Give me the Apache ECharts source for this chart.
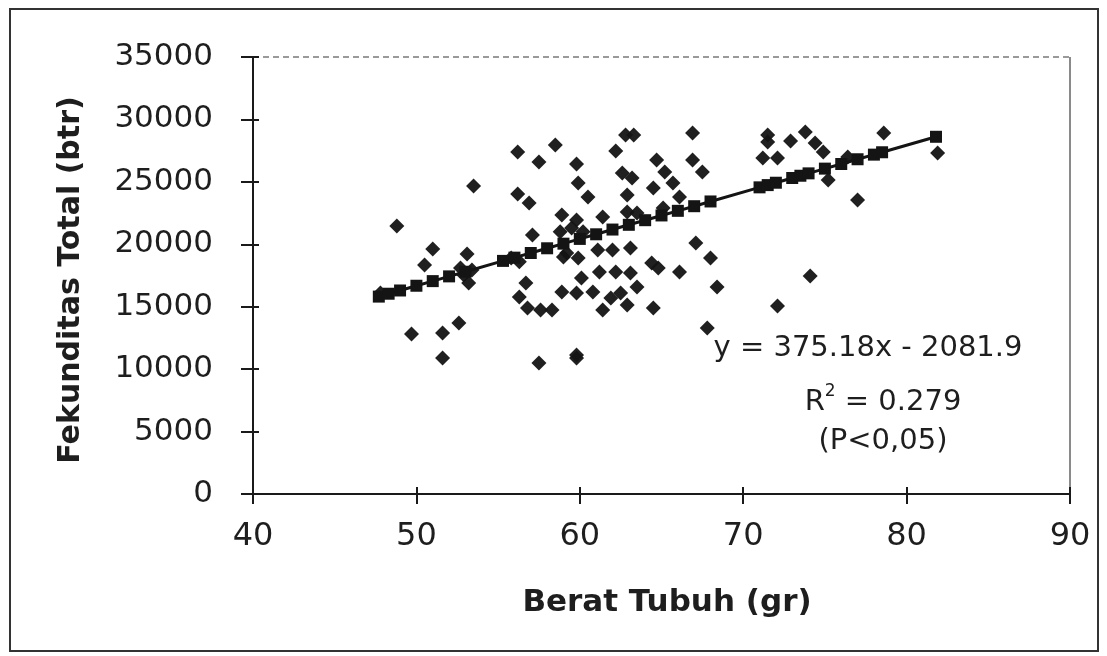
<!DOCTYPE html>
<html>
<head>
<meta charset="utf-8">
<script src="https://cdn.jsdelivr.net/npm/echarts@6/dist/echarts.min.js"></script>
<style>
html,body{margin:0;padding:0;background:#fff;}
#chart{width:1107px;height:656px;}
</style>
</head>
<body>
<div id="chart"></div>
<script>
// Observed data: body weight (gr) and total fecundity (btr)
const bodyWeight = [
  53.5, 48.8, 51.0, 50.5, 53.1, 52.6, 49.7, 51.6, 51.6, 52.9, 53.2, 52.7, 53.4, 47.8,
  56.2, 58.5, 57.5, 59.8, 59.9, 60.5, 56.2, 56.9, 62.8, 63.3, 62.2, 62.6, 63.2, 62.9,
  64.7, 65.2, 64.5, 65.7, 66.1, 66.9, 66.9, 67.5, 58.9, 59.8, 61.4, 57.1, 62.9, 63.5,
  65.1, 61.1, 62.0, 63.1, 67.1, 68.0, 59.9, 59.2, 61.2, 62.2, 63.1, 64.4, 64.8, 66.1,
  60.1, 56.7, 68.4, 63.5, 58.9, 59.8, 60.8, 61.9, 62.5, 62.9, 61.4, 64.5, 56.3, 56.8,
  57.6, 58.3, 67.8, 57.5, 59.8, 59.8, 59.5, 60.2, 58.8, 59.0, 56.3, 55.8,
  71.5, 71.5, 71.2, 72.1, 72.9, 73.8, 74.4, 74.9, 76.4, 75.2, 78.6, 81.9, 77.0, 74.1, 72.1
];
const fecundity = [
  24670, 21470, 19620, 18340, 19220, 13700, 12820, 12900, 10890, 17540, 16900, 18100, 17940, 16100,
  27390, 27950, 26590, 26430, 24910, 23790, 24030, 23310, 28760, 28760, 27470, 25710, 25310, 23950,
  26750, 25790, 24510, 24910, 23790, 28920, 26750, 25790, 22350, 21950, 22190, 20750, 22590, 22510,
  22910, 19540, 19540, 19700, 20110, 18900, 18900, 19300, 17780, 17780, 17700, 18500, 18100, 17780,
  17300, 16900, 16580, 16580, 16180, 16100, 16180, 15700, 16100, 15140, 14740, 14900, 15780, 14900,
  14740, 14740, 13300, 10490, 11130, 10890, 21300, 21000, 21000, 18980, 18600, 18900,
  28760, 28200, 26910, 26910, 28280, 29000, 28110, 27390, 26990, 25150, 28920, 27310, 23550, 17460, 15060
];
// Predicted (trend) values
const trendX = [47.7, 48.3, 49.0, 50.0, 51.0, 52.0, 53.0, 55.3, 56.0, 57.0, 58.0, 59.0, 60.0, 61.0, 62.0, 63.0,
  64.0, 65.0, 66.0, 67.0, 68.0, 71.0, 71.5, 72.0, 73.0, 73.5, 74.0, 75.0, 76.0, 77.0, 78.0, 78.5, 81.8];
const trendY = [15810, 16040, 16300, 16680, 17050, 17430, 17800, 18670, 18930, 19300, 19680, 20050, 20430, 20800, 21180, 21560,
  21930, 22310, 22680, 23050, 23430, 24560, 24740, 24930, 25310, 25490, 25680, 26060, 26430, 26810, 27180, 27370, 28610];
const xTicks = [40, 50, 60, 70, 80, 90];
const yTicks = [0, 5000, 10000, 15000, 20000, 25000, 30000, 35000];

const FONT = 'DejaVu Sans';
const chart = echarts.init(document.getElementById('chart'), null, {renderer: 'canvas'});
const scatterData = bodyWeight.map((x, i) => [x, fecundity[i]]);
const trendData = trendX.map((x, i) => [x, trendY[i]]);

const option = {
  backgroundColor: '#ffffff',
  animation: false,
  grid: {left: 253, right: 37, top: 57, bottom: 162},
  xAxis: [{
    type: 'value', min: xTicks[0], max: xTicks[xTicks.length - 1], interval: 10,
    axisLine: {show: true, onZero: false, lineStyle: {color: '#1a1a1a', width: 2}},
    axisTick: {show: true, length: 10, lineStyle: {color: '#1a1a1a', width: 2}},
    axisLabel: {margin: 27, fontFamily: FONT, fontSize: 32, color: '#1e1e1e', formatter: v => String(v)},
    splitLine: {show: false}
  }, {
    type: 'value', min: xTicks[0], max: xTicks[xTicks.length - 1], interval: 10, position: 'bottom',
    axisLine: {show: false},
    axisTick: {show: true, inside: true, length: 7, lineStyle: {color: '#1a1a1a', width: 2}},
    axisLabel: {show: false}, splitLine: {show: false}
  }],
  yAxis: [{
    type: 'value', min: yTicks[0], max: yTicks[yTicks.length - 1], interval: 5000,
    axisLine: {show: true, onZero: false, lineStyle: {color: '#1a1a1a', width: 2}},
    axisTick: {show: true, length: 12, lineStyle: {color: '#1a1a1a', width: 2}},
    axisLabel: {margin: 40, fontFamily: FONT, fontSize: 31, color: '#1e1e1e', formatter: v => String(v)},
    splitLine: {show: false}
  }, {
    type: 'value', min: yTicks[0], max: yTicks[yTicks.length - 1], interval: 5000, position: 'left',
    axisLine: {show: false},
    axisTick: {show: true, inside: true, length: 6, lineStyle: {color: '#1a1a1a', width: 2}},
    axisLabel: {show: false}, splitLine: {show: false}
  }],
  graphic: [
    {type: 'rect', shape: {x: 10, y: 9, width: 1088, height: 642}, style: {fill: 'none', stroke: '#333', lineWidth: 2}, silent: true},
    {type: 'line', shape: {x1: 253, y1: 57, x2: 1070, y2: 57}, style: {stroke: '#9a9a9a', lineWidth: 2, lineDash: [6, 4]}, silent: true},
    {type: 'line', shape: {x1: 1070, y1: 57, x2: 1070, y2: 494}, style: {stroke: '#8a8a8a', lineWidth: 2}, silent: true},
    {type: 'text', x: 667, y: 603, style: {text: 'Berat Tubuh (gr)', fontFamily: FONT, fontWeight: 'bold', fontSize: 31, fill: '#1e1e1e', align: 'center', verticalAlign: 'middle'}},
    {type: 'text', x: 71, y: 280, rotation: Math.PI / 2, style: {text: 'Fekunditas Total (btr)', fontFamily: FONT, fontWeight: 'bold', fontSize: 30, fill: '#1e1e1e', align: 'center', verticalAlign: 'middle'}},
    {type: 'text', x: 868, y: 348, style: {text: 'y = 375.18x - 2081.9', fontFamily: FONT, fontSize: 29, fill: '#1e1e1e', align: 'center', verticalAlign: 'middle'}},
    {type: 'text', x: 883, y: 400, style: {
      text: '{n|R}{s|2}{n| = 0.279}', fontFamily: FONT, fill: '#1e1e1e', align: 'center', verticalAlign: 'middle',
      rich: {
        n: {fontFamily: FONT, fontSize: 29, lineHeight: 34, fill: '#1e1e1e', verticalAlign: 'bottom'},
        s: {fontFamily: FONT, fontSize: 17, lineHeight: 34, fill: '#1e1e1e', verticalAlign: 'top', padding: [0, 0, 14, 0]}
      }}},
    {type: 'text', x: 883, y: 441, style: {text: '(P<0,05)', fontFamily: FONT, fontSize: 29, fill: '#1e1e1e', align: 'center', verticalAlign: 'middle'}}
  ],
  series: [{
    name: 'Fekunditas', type: 'scatter', xAxisIndex: 0, yAxisIndex: 0,
    data: scatterData, symbol: 'diamond', symbolSize: 15,
    itemStyle: {color: '#141414', opacity: 0.95}
  }, {
    name: 'Prediksi', type: 'line', xAxisIndex: 0, yAxisIndex: 0,
    data: trendData, symbol: 'rect', symbolSize: 12, showSymbol: true,
    lineStyle: {color: '#141414', width: 3},
    itemStyle: {color: '#141414'}, z: 3
  }]
};
chart.setOption(option);
</script>
</body>
</html>
